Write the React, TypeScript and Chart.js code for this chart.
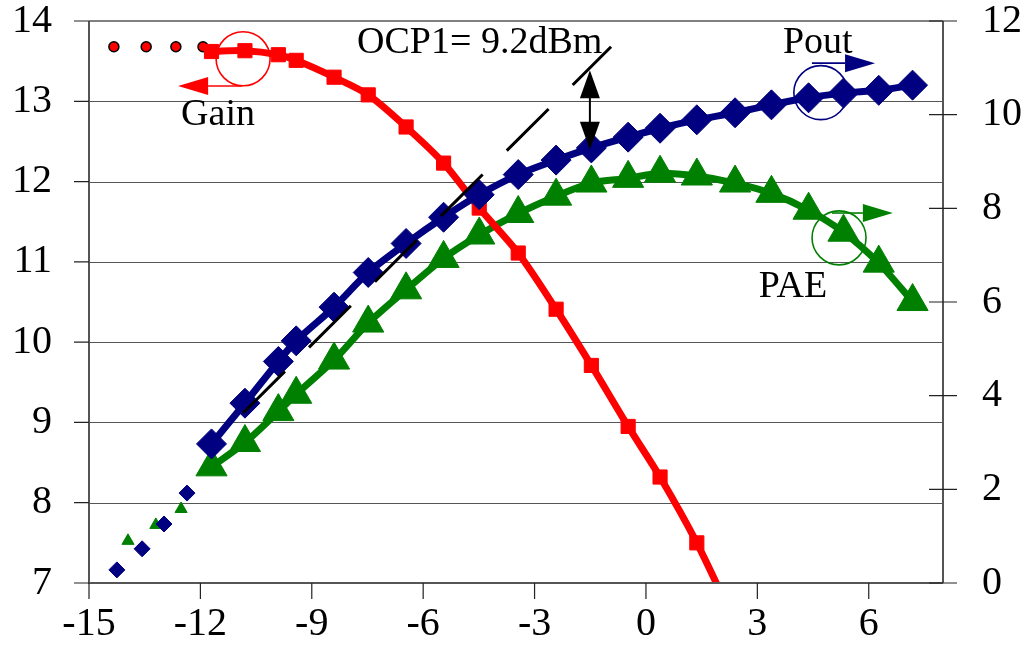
import { useEffect, useRef } from 'react';
import { Chart, registerables } from 'chart.js';

Chart.register(...registerables);

// ---- data ----
const pinMain = [-11.7, -10.8, -9.9, -9.42, -8.4, -7.48, -6.46, -5.45, -4.49, -3.44, -2.42, -1.47, -0.48, 0.38, 1.37, 2.4, 3.38, 4.38, 5.32, 6.27, 7.18];
const gainPin = [-11.7, -10.8, -9.9, -9.42, -8.4, -7.48, -6.46, -5.45, -4.49, -3.44, -2.42, -1.47, -0.48, 0.38, 1.37, 2.35];
const gainDb = [13.62, 13.63, 13.58, 13.51, 13.30, 13.08, 12.68, 12.23, 11.67, 11.11, 10.41, 9.71, 8.95, 8.32, 7.50, 6.55];
const poutDbm = [2.97, 3.84, 4.73, 5.17, 5.89, 6.63, 7.25, 7.81, 8.29, 8.72, 9.03, 9.29, 9.52, 9.71, 9.89, 10.04, 10.21, 10.36, 10.46, 10.52, 10.63];
const paePct = [2.48, 3.0, 3.66, 4.03, 4.76, 5.55, 6.26, 6.93, 7.43, 7.89, 8.26, 8.54, 8.64, 8.75, 8.69, 8.54, 8.32, 7.96, 7.49, 6.83, 6.01];

const gainSmallPin = [-14.33, -13.46, -12.66, -11.93];
const gainSmallDb = [13.68, 13.68, 13.68, 13.68];
const poutSmallPin = [-14.25, -13.57, -12.98, -12.36];
const poutSmallDbm = [0.28, 0.73, 1.26, 1.92];
const paeSmallPin = [-13.95, -13.2, -12.52];
const paeSmallPct = [0.9, 1.24, 1.58];

const tangentPin = [-10.85, -0.94];
const tangentPout = [3.63, 11.45];

const xTicks = { min: -15, max: 8, step: 3 };
const leftTicks = { min: 7, max: 14, step: 1 };
const rightTicks = { min: 0, max: 12, step: 2 };

const ocpLabel = 'OCP1= 9.2dBm';

const pts = (xs: number[], ys: number[]) => xs.map((x, i) => ({ x, y: ys[i] }));

const RED = '#FF0000';
const NAVY = '#000080';
const GREEN = '#008000';
const FONT = '"Liberation Serif", "Times New Roman", serif';

function drawArrowHead(ctx: CanvasRenderingContext2D, x2: number, y2: number, ang: number, len: number, half: number, color: string) {
  const bx = x2 - len * Math.cos(ang);
  const by = y2 - len * Math.sin(ang);
  ctx.fillStyle = color;
  ctx.beginPath();
  ctx.moveTo(x2, y2);
  ctx.lineTo(bx + half * Math.sin(ang), by - half * Math.cos(ang));
  ctx.lineTo(bx - half * Math.sin(ang), by + half * Math.cos(ang));
  ctx.closePath();
  ctx.fill();
}

function arrow(ctx: CanvasRenderingContext2D, x1: number, y1: number, x2: number, y2: number, color: string, lw: number, len: number, half: number) {
  const ang = Math.atan2(y2 - y1, x2 - x1);
  ctx.strokeStyle = color;
  ctx.lineWidth = lw;
  ctx.beginPath();
  ctx.moveTo(x1, y1);
  ctx.lineTo(x2 - len * Math.cos(ang), y2 - len * Math.sin(ang));
  ctx.stroke();
  drawArrowHead(ctx, x2, y2, ang, len, half, color);
}

const framePlugin = {
  id: 'frame',
  beforeDatasetsDraw(chart: any) {
    const { ctx, chartArea: a, scales } = chart;
    const yl = scales.yL;
    ctx.save();
    // gridlines
    ctx.strokeStyle = '#555';
    ctx.lineWidth = 1;
    for (let v = leftTicks.min + 1; v < leftTicks.max; v += leftTicks.step) {
      const y = Math.round(yl.getPixelForValue(v)) + 0.5;
      ctx.beginPath();
      ctx.moveTo(a.left, y);
      ctx.lineTo(a.right, y);
      ctx.stroke();
    }
    ctx.restore();
  },
  afterDatasetsDraw(chart: any) {
    const { ctx, chartArea: a, scales } = chart;
    const x = scales.x, yl = scales.yL, yr = scales.yR;
    ctx.save();
    // frame / axes
    ctx.strokeStyle = '#808080';
    ctx.lineWidth = 2;
    ctx.beginPath();
    ctx.moveTo(a.left, a.top);
    ctx.lineTo(a.right, a.top);
    ctx.stroke();
    ctx.strokeStyle = '#555';
    ctx.beginPath();
    ctx.moveTo(a.left, a.top);
    ctx.lineTo(a.left, a.bottom);
    ctx.lineTo(a.right, a.bottom);
    ctx.moveTo(a.right, a.top);
    ctx.lineTo(a.right, a.bottom);
    ctx.stroke();
    // ticks
    ctx.strokeStyle = '#222';
    ctx.lineWidth = 1.2;
    ctx.beginPath();
    yl.ticks.forEach((t: any) => {
      const y = yl.getPixelForValue(t.value);
      ctx.moveTo(a.left - 15, y);
      ctx.lineTo(a.left, y);
    });
    yr.ticks.forEach((t: any) => {
      const y = yr.getPixelForValue(t.value);
      ctx.moveTo(a.right - 14, y);
      ctx.lineTo(a.right + 14, y);
    });
    x.ticks.forEach((t: any) => {
      const px = x.getPixelForValue(t.value);
      ctx.moveTo(px, a.bottom);
      ctx.lineTo(px, a.bottom + 16);
    });
    ctx.stroke();

    // annotations
    const X = (v: number) => x.getPixelForValue(v);
    const L = (v: number) => yl.getPixelForValue(v);
    const R = (v: number) => yr.getPixelForValue(v);

    ctx.font = `38px ${FONT}`;
    ctx.fillStyle = '#000';
    ctx.textAlign = 'left';
    ctx.textBaseline = 'alphabetic';
    ctx.fillText(ocpLabel, X(-7.78), L(13.6));
    ctx.fillText('Gain', X(-12.52), L(12.7));
    ctx.fillText('Pout', X(3.69), R(11.32));
    ctx.fillText('PAE', X(3.04), R(6.11));

    // circles
    ctx.lineWidth = 1.6;
    ctx.strokeStyle = RED;
    ctx.beginPath();
    ctx.arc(X(-10.85), L(13.53), 27, 0, Math.PI * 2);
    ctx.stroke();
    ctx.strokeStyle = NAVY;
    ctx.beginPath();
    ctx.arc(X(4.71), R(10.47), 27, 0, Math.PI * 2);
    ctx.stroke();
    ctx.strokeStyle = GREEN;
    ctx.beginPath();
    ctx.arc(X(5.2), R(7.37), 27, 0, Math.PI * 2);
    ctx.stroke();

    // arrows
    arrow(ctx, X(-10.88), L(13.19), X(-12.6), L(13.19), RED, 1.6, 30, 9);
    arrow(ctx, X(4.47), R(11.1), X(6.17), R(11.1), NAVY, 1.6, 30, 9);
    arrow(ctx, X(5.01), R(7.9), X(6.65), R(7.9), GREEN, 1.6, 30, 9);

    // double arrow
    const dx = X(-1.51);
    const top = R(10.95), bot = R(9.25);
    ctx.strokeStyle = '#000';
    ctx.lineWidth = 2;
    ctx.beginPath();
    ctx.moveTo(dx, top + 20);
    ctx.lineTo(dx, bot - 20);
    ctx.stroke();
    drawArrowHead(ctx, dx, top, -Math.PI / 2, 28, 10, '#000');
    drawArrowHead(ctx, dx, bot, Math.PI / 2, 28, 10, '#000');
    ctx.restore();
  },
};

export default function App() {
  const ref = useRef<HTMLCanvasElement>(null);
  useEffect(() => {
    document.body.style.margin = '0';
    const canvas = ref.current!;
    const noPad = (s: any) => {
      s.paddingTop = 0;
      s.paddingBottom = 0;
      s.paddingLeft = 0;
      s.paddingRight = 0;
    };
    const chart = new Chart(canvas, {
      type: 'line',
      data: {
        datasets: [
          {
            label: 'Tangent',
            data: pts(tangentPin, tangentPout),
            yAxisID: 'yR',
            borderColor: '#000',
            borderWidth: 3,
            borderDash: [59, 34],
            pointRadius: 0,
            tension: 0,
            order: 0,
          },
          {
            label: 'Pout',
            data: pts(pinMain, poutDbm),
            yAxisID: 'yR',
            borderColor: NAVY,
            backgroundColor: NAVY,
            borderWidth: 7,
            pointStyle: 'rectRot',
            pointRadius: 15,
            pointBorderWidth: 1,
            tension: 0.3,
            order: 1,
          },
          {
            label: 'Pout small',
            data: pts(poutSmallPin, poutSmallDbm),
            yAxisID: 'yR',
            showLine: false,
            borderColor: NAVY,
            backgroundColor: NAVY,
            pointStyle: 'rectRot',
            pointRadius: 8,
            pointBorderWidth: 1,
            order: 1,
          },
          {
            label: 'Gain',
            data: pts(gainPin, gainDb),
            yAxisID: 'yL',
            borderColor: RED,
            backgroundColor: RED,
            borderWidth: 7,
            pointStyle: 'rect',
            pointRadius: 10,
            pointBorderWidth: 1,
            tension: 0.3,
            order: 2,
          },
          {
            label: 'Gain small',
            data: pts(gainSmallPin, gainSmallDb),
            yAxisID: 'yL',
            showLine: false,
            borderColor: '#000',
            backgroundColor: RED,
            pointStyle: 'circle',
            pointRadius: 5,
            pointBorderWidth: 1.5,
            order: 2,
          },
          {
            label: 'PAE',
            data: pts(pinMain, paePct),
            yAxisID: 'yR',
            borderColor: GREEN,
            backgroundColor: GREEN,
            borderWidth: 7,
            pointStyle: 'triangle',
            pointRadius: 18,
            pointBorderWidth: 1,
            tension: 0.3,
            order: 3,
          },
          {
            label: 'PAE small',
            data: pts(paeSmallPin, paeSmallPct),
            yAxisID: 'yR',
            showLine: false,
            borderColor: GREEN,
            backgroundColor: GREEN,
            pointStyle: 'triangle',
            pointRadius: 7,
            pointBorderWidth: 1,
            order: 3,
          },
        ],
      },
      options: {
        animation: false,
        responsive: false,
        events: [],
        layout: { padding: { top: 21, left: 0, right: 0, bottom: 0 } },
        plugins: { legend: { display: false }, tooltip: { enabled: false } },
        scales: {
          x: {
            type: 'linear',
            min: xTicks.min,
            max: xTicks.max,
            grid: { display: false, drawTicks: false },
            border: { display: false },
            ticks: {
              stepSize: xTicks.step,
              includeBounds: false,
              autoSkip: false,
              maxRotation: 0,
              padding: 17,
              color: '#000',
              font: { family: FONT, size: 40 },
            },
            afterFit: (s: any) => {
              s.height = 64;
              noPad(s);
            },
          },
          yL: {
            type: 'linear',
            position: 'left',
            min: leftTicks.min,
            max: leftTicks.max,
            grid: { display: false, drawTicks: false },
            border: { display: false },
            ticks: {
              stepSize: leftTicks.step,
              padding: 37,
              color: '#000',
              font: { family: FONT, size: 40 },
            },
            afterFit: (s: any) => {
              s.width = 89;
              noPad(s);
            },
          },
          yR: {
            type: 'linear',
            position: 'right',
            min: rightTicks.min,
            max: rightTicks.max,
            grid: { display: false, drawTicks: false },
            border: { display: false },
            ticks: {
              stepSize: rightTicks.step,
              padding: 39,
              color: '#000',
              font: { family: FONT, size: 40 },
            },
            afterFit: (s: any) => {
              s.width = 84;
              noPad(s);
            },
          },
        },
      },
      plugins: [framePlugin],
    } as any);
    return () => chart.destroy();
  }, []);
  return (
    <div style={{ position: 'absolute', left: 0, top: 0 }}>
      <canvas ref={ref} width={1027} height={647} style={{ display: 'block', width: 1027, height: 647 }} />
    </div>
  );
}
